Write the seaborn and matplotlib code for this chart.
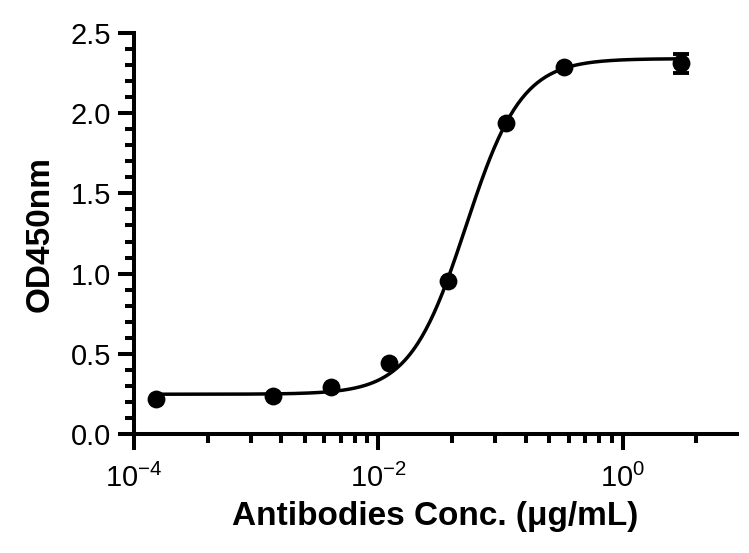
import numpy as np
import pandas as pd
import matplotlib
matplotlib.use("Agg")
import matplotlib.pyplot as plt
import seaborn as sns

# ---- data ----
conc = [1.52e-4, 1.37e-3, 4.12e-3, 1.23e-2, 3.70e-2, 1.11e-1, 3.33e-1, 3.0]
od = [0.22, 0.24, 0.29, 0.445, 0.955, 1.94, 2.29, 2.31]
od_err = [0.0, 0.0, 0.0, 0.0, 0.0, 0.0, 0.0, 0.062]

# 4PL fit parameters (as drawn)
fit_bottom = 0.248
fit_top = 2.34
fit_ec50 = 0.052
fit_hill = 1.9

x_major = [1e-4, 1e-2, 1e0]
x_major_labels = [r"$\mathregular{10^{-4}}$", r"$\mathregular{10^{-2}}$", r"$\mathregular{10^{0}}$"]
y_major = [0.0, 0.5, 1.0, 1.5, 2.0, 2.5]
y_major_labels = ["0.0", "0.5", "1.0", "1.5", "2.0", "2.5"]

xlabel = "Antibodies Conc. (μg/mL)"
ylabel = "OD450nm"

sns.set_theme(style="ticks")
plt.rcParams["font.family"] = ["Liberation Sans", "DejaVu Sans"]
plt.rcParams["mathtext.fontset"] = "custom"
plt.rcParams["mathtext.rm"] = "Liberation Sans"
plt.rcParams["mathtext.it"] = "Liberation Sans:italic"
plt.rcParams["mathtext.bf"] = "Liberation Sans:bold"
plt.rcParams["text.color"] = "black"
plt.rcParams["axes.labelcolor"] = "black"
plt.rcParams["xtick.color"] = "black"
plt.rcParams["ytick.color"] = "black"

df = pd.DataFrame({"conc": conc, "od": od, "err": od_err})

xs = np.logspace(np.log10(conc[0]), np.log10(conc[-1]), 400)
ys = fit_bottom + (fit_top - fit_bottom) / (1 + (fit_ec50 / xs) ** fit_hill)
curve = pd.DataFrame({"conc": xs, "od": ys})

fig = plt.figure(figsize=(7.49, 5.53), dpi=100)
ax = fig.add_axes([134 / 749, 1 - 434 / 553, (737 - 134) / 749, (434 - 33) / 553])

sns.lineplot(data=curve, x="conc", y="od", ax=ax, color="black", linewidth=2.5, zorder=2)
ax.errorbar(df["conc"], df["od"], yerr=df["err"], fmt="none", ecolor="black",
            elinewidth=2.4, capsize=6, capthick=2.8, zorder=3)
sns.scatterplot(data=df, x="conc", y="od", ax=ax, color="black", s=165,
                edgecolor="black", linewidth=0, zorder=4)

ax.set_xscale("log")
ax.set_xlim(1e-4, 10 ** 0.935)
ax.set_ylim(0, 2.5)

ax.set_xticks(x_major)
ax.set_xticklabels(x_major_labels)
minor = [d * k ** 2 for d in (1e-4, 1e-2, 1e0) for k in range(2, 10)]
minor = [m for m in minor if m < 10 ** 0.935]
ax.set_xticks(minor, minor=True)
ax.set_xticklabels([], minor=True)

ax.set_yticks(y_major)
ax.set_yticklabels(y_major_labels)
ax.set_yticks(np.arange(0, 2.51, 0.1), minor=True)

for side in ("top", "right"):
    ax.spines[side].set_visible(False)
for side in ("left", "bottom"):
    ax.spines[side].set_linewidth(2.9)
    ax.spines[side].set_color("black")
    ax.spines[side].set_capstyle("projecting")

ax.tick_params(axis="both", which="major", length=11.5, width=2.9, color="black",
               labelsize=21, labelcolor="black", pad=5)
ax.tick_params(axis="both", which="minor", length=6.5, width=2.9, color="black")
ax.tick_params(axis="x", which="major", pad=10)

ax.set_xlabel(xlabel, fontsize=24, fontweight="bold", labelpad=6, color="black")
ax.set_ylabel(ylabel, fontsize=24, fontweight="bold", labelpad=11, color="black")
ax.grid(False)

fig.savefig("out.png", dpi=100)
